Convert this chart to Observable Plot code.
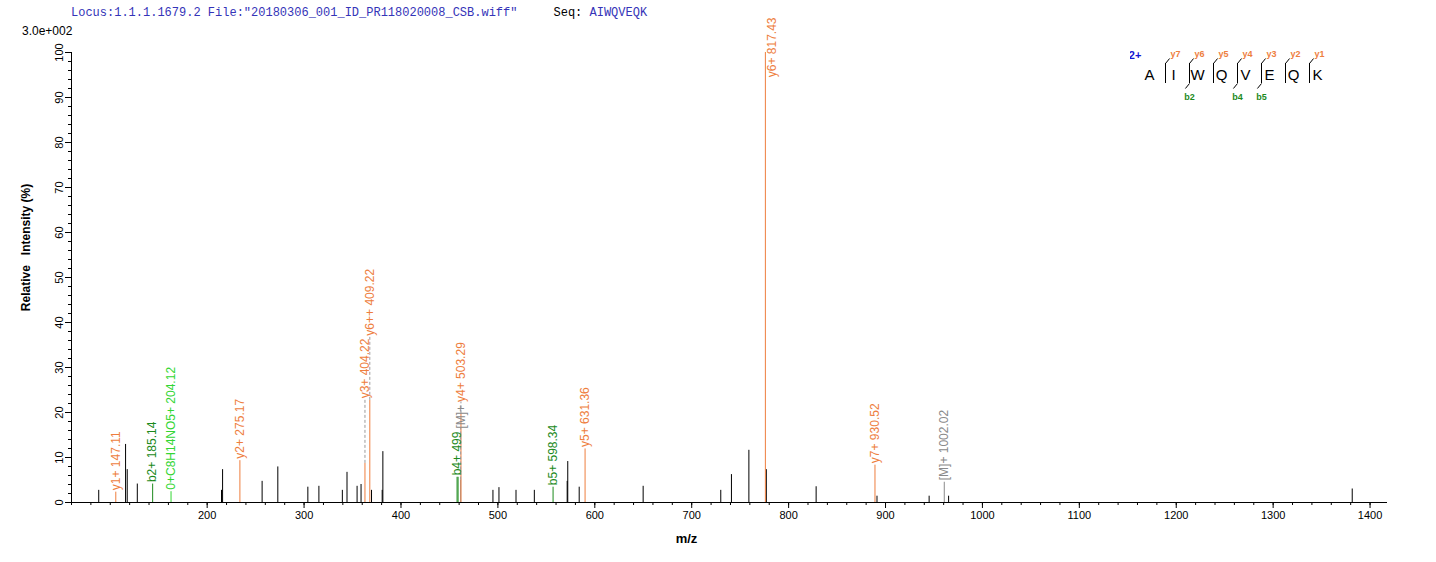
<!DOCTYPE html>
<html><head><meta charset="utf-8">
<script src="https://cdn.jsdelivr.net/npm/d3@7"></script>
<script src="https://cdn.jsdelivr.net/npm/@observablehq/plot@0.6"></script>
<style>
body{margin:0;background:#fff;}
#wrap{position:relative;width:1436px;height:562px;overflow:hidden;font-family:"Liberation Sans",Arial,sans-serif;}
#chart{position:absolute;left:0;top:0;}
#hdr{position:absolute;left:71px;top:6px;font:12px "Liberation Mono",monospace;color:#3434b8;white-space:pre;}
#hdr .k{color:#000;}
#scl{position:absolute;left:22px;top:24px;font:12px "Liberation Sans",Arial,sans-serif;color:#000;}
#seq{position:absolute;left:1130px;top:40px;}
</style></head><body>
<div id="wrap">
  <div id="chart"></div>
  <div id="hdr"></div>
  <div id="scl"></div>
  <div id="seq"></div>
</div>
<script>
// ---------------- data ----------------
const locusText = 'Locus:1.1.1.1679.2 File:"20180306_001_ID_PR118020008_CSB.wiff"';
const seqText = "AIWQVEQK";
const scaleText = "3.0e+002";
const xTitle = "m/z";
const yTitle = "Relative\u00a0\u00a0\u00a0Intensity (%)";

// unassigned (black) peaks, m/z in the same frame as the annotated ions
const otherMz = [129.5, 157.2, 158.9, 169.3, 256.2, 257.3, 298.1, 314.3, 345.3, 356.7,
  380.9, 385.7, 396.1, 400.2, 411.0, 422.0, 422.7, 536.3, 542.5, 560.1, 579.0,
  612.9, 613.5, 625.3, 691.3, 771.4, 782.4, 800.4, 818.4, 869.8, 932.6, 986.4, 1006.5, 1423.0];
const otherInt = [2.7, 12.9, 7.3, 4.1, 2.7, 7.3, 4.7, 7.9, 3.4, 3.6,
  2.7, 6.7, 3.6, 4.0, 2.7, 2.7, 11.3, 2.7, 3.3, 2.7, 2.7,
  4.7, 9.1, 3.4, 3.6, 2.7, 6.2, 11.6, 7.3, 3.5, 1.4, 1.4, 1.4, 3.0];

// assigned peaks
const ionMz =    [147.11, 185.14, 204.12, 275.17, 404.22, 409.22, 499.27, 500.3, 503.0, 503.29, 598.34, 631.36, 817.43, 930.52, 1002.02];
const ionInt =   [2.3, 4.1, 2.4, 9.3, 8.7, 22.7, 5.6, 5.6, 5.0, 19.7, 3.4, 11.9, 100, 8.3, 4.5];
const ionType =  ["y", "b", "i", "y", "y", "y", "b", "b", "m", "y", "b", "y", "y", "y", "m"];
const ionLabel = ["y1+ 147.11", "b2+ 185.14", "0+C8H14NO5+ 204.12", "y2+ 275.17", "y3+ 404.22", "y6++ 409.22",
  "b4+ 499", "", "[M]+", "y4+ 503.29", "b5+ 598.34", "y5+ 631.36", "y6+ 817.43", "y7+ 930.52", "[M]+ 1002.02"];
// label raised above its taller right neighbour's line
const labelsRaisedAboveNeighbor = ["y3+ 404.22"];
// the reference's m/z axis is drawn displaced from the annotated peak m/z by this amount
const axisShift = 41.4;

const xMajorTicks = [200, 300, 400, 500, 600, 700, 800, 900, 1000, 1100, 1200, 1300, 1400];
const yMajorTicks = [0, 10, 20, 30, 40, 50, 60, 70, 80, 90, 100];

const sequence = ["A", "I", "W", "Q", "V", "E", "Q", "K"];
const yIonsSeen = [1, 2, 3, 4, 5, 6, 7];
const bIonsSeen = [2, 4, 5];
const precursorCharge = "2+";

// ---------------- styles ----------------
const colors = {u: "#000000", y: "#ee7e3e", b: "#1c8a1c", i: "#33d633", m: "#8a8a8a"};
const W = 1436, H = 562, mL = 71, mR = 49, mT = 52, mB = 60;
const xDomain = [60, 1418], yDomain = [0, 100];

document.getElementById("hdr").innerHTML =
  locusText.replace(/&/g, "&amp;").replace(/</g, "&lt;") + '     <span class="k">Seq:</span> ' + seqText;
document.getElementById("scl").textContent = scaleText;

// ---------------- peaks ----------------
const peaks = [
  ...otherMz.map((mz, i) => ({mz, x: mz - axisShift, h: otherInt[i], type: "u", label: ""})),
  ...ionMz.map((mz, i) => ({mz, x: mz - axisShift, h: ionInt[i], type: ionType[i], label: ionLabel[i]}))
];

const xs = Plot.scale({x: {domain: xDomain, range: [mL, W - mR]}});
const ys = Plot.scale({y: {domain: yDomain, range: [H - mB, mT]}});

const ctx = document.createElement("canvas").getContext("2d");
ctx.font = "12px 'Liberation Sans'";

const labeled = peaks.filter(p => p.label).sort((a, b) => a.mz - b.mz);
const placed = [];
const labels = [], leaders = [];
labeled.forEach((p, idx) => {
  const x = xs.apply(p.x);
  const top = ys.apply(p.h);
  let start = top - 2;
  if (labelsRaisedAboveNeighbor.includes(p.label) && labeled[idx + 1]) {
    start = Math.min(start, ys.apply(labeled[idx + 1].h) - 2);
  }
  const len = ctx.measureText(p.label).width;
  let moved = true, guard = 0;
  while (moved && guard++ < 50) {
    moved = false;
    for (const q of placed) {
      if (Math.abs(q.x - x) < 9 && start - len < q.start && start > q.start - q.len) {
        start = q.start - q.len - 3;
        moved = true;
      }
    }
  }
  let shift = false;
  if (start - len < 17) { start = 17 + len; shift = true; }
  placed.push({x, start, len});
  labels.push({x: p.x, y: ys.invert(start), text: p.label, color: colors[p.type], shift});
  if (!shift && top - start > 4) leaders.push({x: p.x, y1: p.h, y2: ys.invert(start)});
});

const chart = Plot.plot({
  width: W, height: H,
  marginLeft: mL, marginRight: mR, marginTop: mT, marginBottom: mB,
  x: {domain: xDomain},
  y: {domain: yDomain},
  color: {type: "identity"},
  style: {fontFamily: "'Liberation Sans', Arial, sans-serif", fontSize: "11px", color: "#000", background: "transparent"},
  marks: [
    Plot.axisX({ticks: d3.range(60, 1418, 20), tickSize: 3, tickFormat: () => "", label: null}),
    Plot.axisX({ticks: xMajorTicks, tickSize: 6, tickPadding: 3, tickFormat: d => String(d), label: null}),
    Plot.axisY({ticks: d3.range(0, 101, 2), tickSize: 3, tickFormat: () => "", label: null}),
    Plot.axisY({ticks: yMajorTicks, tickSize: 6, tickFormat: () => "", label: null}),
    Plot.text(yMajorTicks, {x: () => xDomain[0], y: d => d, text: d => String(d), rotate: -90,
      dx: -9, lineAnchor: "bottom", textAnchor: "middle", fontSize: 11}),
    Plot.ruleY([0], {stroke: "#000"}),
    Plot.ruleX([xDomain[0]], {y1: 0, y2: 100, stroke: "#000"}),
    Plot.ruleX(peaks, {x: "x", y1: 0, y2: "h", stroke: d => colors[d.type], strokeWidth: 1}),
    Plot.ruleX(leaders, {x: "x", y1: "y1", y2: "y2", stroke: "#9a9a9a", strokeDasharray: "3,2"}),
    Plot.text(labels.filter(d => !d.shift), {x: "x", y: "y", text: "text", fill: "color",
      rotate: -90, textAnchor: "start", lineAnchor: "middle", fontSize: 12}),
    Plot.text(labels.filter(d => d.shift), {x: "x", y: "y", text: "text", fill: "color",
      rotate: -90, textAnchor: "start", lineAnchor: "middle", fontSize: 12, dx: 7}),
    Plot.text([xTitle], {frameAnchor: "bottom", dy: 40, dx: -43, fontWeight: "bold", fontSize: 13}),
    Plot.text([yTitle], {frameAnchor: "left", dx: -45, dy: -30, rotate: -90, textAnchor: "middle", fontWeight: "bold", fontSize: 12})
  ]
});
document.getElementById("chart").appendChild(chart);

// ---------------- sequence annotation ----------------
const breaks = d3.range(1, sequence.length).map(k => ({k, bx: k - 1 / 3, yi: sequence.length - k,
  hasY: yIonsSeen.includes(sequence.length - k), hasB: bIonsSeen.includes(k)}));
const seqPlot = Plot.plot({
  width: 220, height: 70, margin: 0,
  x: {domain: [0, 7], range: [19, 187], axis: null},
  y: {domain: [0, 70], range: [0, 70], axis: null},
  style: {fontFamily: "'Liberation Sans', Arial, sans-serif", background: "transparent"},
  marks: [
    Plot.text([precursorCharge], {x: () => -0.6, y: () => 15, text: d => d, fill: "#1414d2", fontWeight: "bold", fontSize: 11}),
    Plot.text(sequence, {x: (d, i) => i, y: () => 39, text: d => d, fontSize: 15, lineAnchor: "bottom", fill: "#000"}),
    Plot.ruleX(breaks, {x: "bx", y1: () => 23, y2: () => 43, stroke: "#000"}),
    Plot.link(breaks.filter(d => d.hasY), {x1: "bx", y1: () => 23, x2: d => d.bx + 0.17, y2: () => 18, stroke: "#000"}),
    Plot.link(breaks.filter(d => d.hasB), {x1: "bx", y1: () => 43, x2: d => d.bx - 0.17, y2: () => 48, stroke: "#000"}),
    Plot.text(breaks.filter(d => d.hasY), {x: d => d.bx + 0.42, y: () => 14, text: d => "y" + d.yi, fill: colors.y, fontSize: 9, fontWeight: "bold"}),
    Plot.text(breaks.filter(d => d.hasB), {x: "bx", y: () => 57, text: d => "b" + d.k, fill: colors.b, fontSize: 9, fontWeight: "bold"})
  ]
});
document.getElementById("seq").appendChild(seqPlot);
</script>
</body></html>
